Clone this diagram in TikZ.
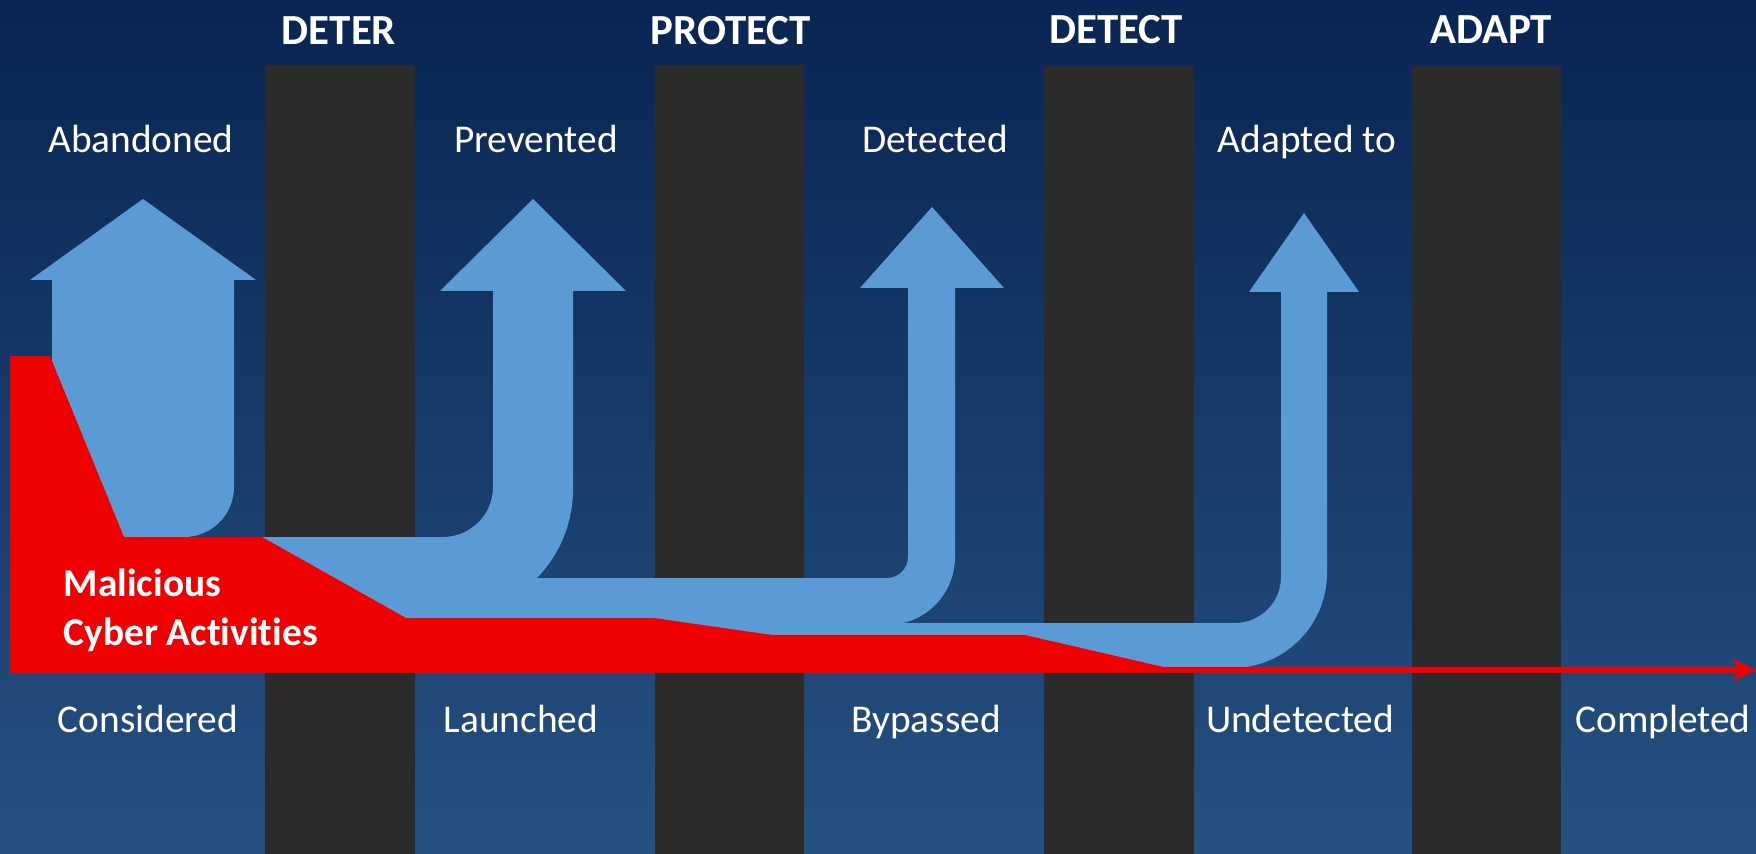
\documentclass[tikz,border=0pt]{standalone}
\usepackage{fontspec}
\setmainfont{Carlito}[Ligatures=NoCommon]
\usetikzlibrary{arrows.meta}

\definecolor{bgtop}{RGB}{9,37,83}
\definecolor{bgbottom}{RGB}{37,81,129}
\definecolor{flowblue}{RGB}{91,155,213}
\definecolor{attackred}{RGB}{240,0,0}
\definecolor{bardark}{RGB}{43,43,43}

\tikzset{
	stagebar/.style={fill=bardark},
	flowarrow/.style={fill=flowblue},
	attack/.style={fill=attackred},
	attackline/.style={draw=attackred, line width=0.6mm, -{Stealth[length=2.3mm, width=2.2mm, inset=0.7mm]}},
	stagename/.style={text=white, anchor=base, font=\fontsize{12.2}{14}\selectfont\bfseries},
	outcome/.style={text=white, anchor=base, font=\fontsize{11.2}{13}\selectfont}
}

\begin{document}
\begin{tikzpicture}[x=0.1mm, y=0.1mm]
	\tikzstyle{every node}+=[inner sep=0pt]
	\useasboundingbox (0,0) rectangle (1756,-854);
	\shade [top color=bgtop, bottom color=bgbottom] (0,0) rectangle (1756,-854);
	\fill [stagebar] (265,-65) rectangle (415,-854);
	\fill [stagebar] (655,-65) rectangle (804,-854);
	\fill [stagebar] (1044,-66) rectangle (1194,-854);
	\fill [stagebar] (1412,-66) rectangle (1561,-854);
	\fill [flowarrow] (1304,-213) -- (1359,-292) -- (1327,-292) [rounded corners=9.5mm] -- (1327,-668) [sharp corners] -- (240,-668) -- (240,-623) [rounded corners=4.6mm] -- (1281,-623) [sharp corners] -- (1281,-292) -- (1249,-292) -- cycle;
	\fill [flowarrow] (932,-207) -- (1004,-288) -- (955,-288) [rounded corners=6.8mm] -- (955,-625) [sharp corners] -- (240,-625) -- (240,-578) [rounded corners=2.1mm] -- (908,-578) [sharp corners] -- (908,-288) -- (860,-288) -- cycle;
	\fill [flowarrow] (533,-199) -- (626,-291) -- (573,-291) [rounded corners=12.8mm] -- (573,-617) [sharp corners] -- (240,-617) -- (240,-537) [rounded corners=5mm] -- (493,-537) [sharp corners] -- (493,-291) -- (440,-291) -- cycle;
	\fill [flowarrow] (143,-199) -- (256,-280) -- (234,-280) [rounded corners=5mm] -- (234,-537) [sharp corners] -- (52,-537) -- (52,-280) -- (30,-280) -- cycle;
	\fill [attack] (10,-356) -- (50,-356) -- (124,-537) -- (262,-537) -- (406,-618) -- (654,-618) -- (772,-635) -- (1025,-635) -- (1172,-669) -- (1172,-673) -- (10,-673) -- cycle;
	\coordinate (attackfront) at (1160,-670);
	\coordinate (goal) at (1756,-670);
	\draw [attackline] (attackfront) -- (goal);
	\node [stagename] (deter) at (339,-45) {DETER};
	\node [stagename] (protect) at (731,-45) {PROTECT};
	\node [stagename] (detect) at (1116,-44) {DETECT};
	\node [stagename] (adapt) at (1491,-44) {ADAPT};
	\node [outcome] (abandoned) at (141,-153) {Abandoned};
	\node [outcome] (prevented) at (536,-153) {Prevented};
	\node [outcome] (detected) at (935,-153) {Detected};
	\node [outcome] (adaptedto) at (1307,-153) {Adapted to};
	\node [outcome] (considered) at (148,-732) {Considered};
	\node [outcome] (launched) at (521,-732) {Launched};
	\node [outcome] (bypassed) at (926,-732) {Bypassed};
	\node [outcome] (undetected) at (1300,-732) {Undetected};
	\node [outcome] (completed) at (1663,-732) {Completed};
	\node [text=white, anchor=base west, align=left, font=\fontsize{11.2}{13.66}\selectfont\bfseries] (malicious) at (63,-645) {Malicious\\Cyber Activities};
\end{tikzpicture}
\end{document}
